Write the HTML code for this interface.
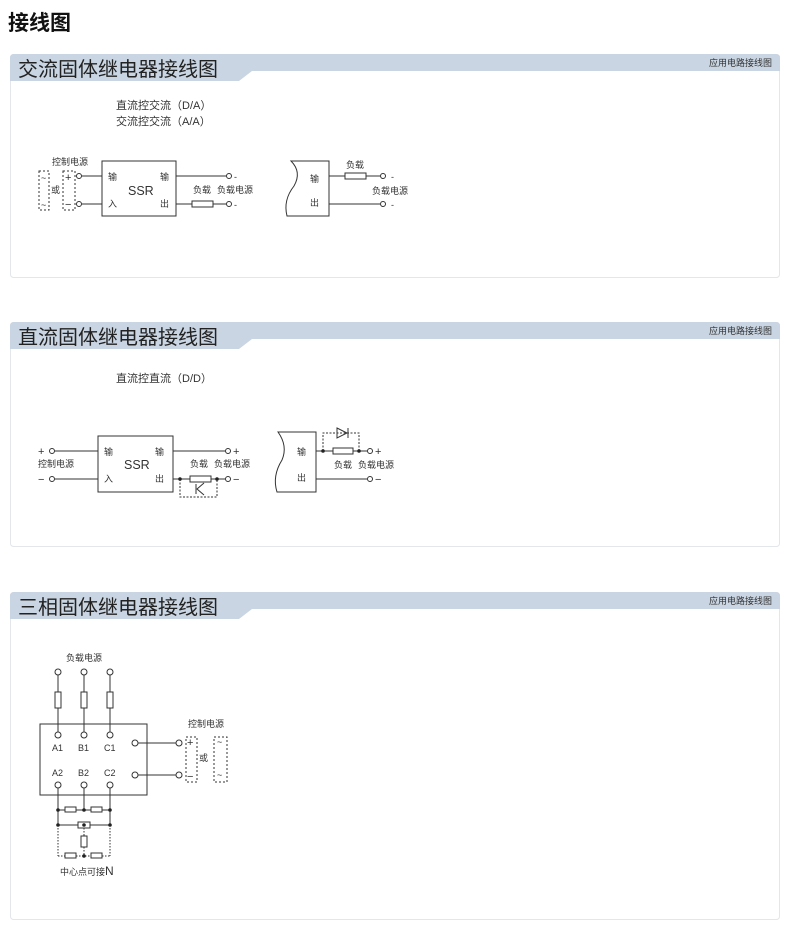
<!DOCTYPE html>
<html><head><meta charset="utf-8"><style>
html,body{margin:0;padding:0;background:#fff;}
svg{display:block;font-family:"Liberation Sans","Noto Sans CJK SC",sans-serif;}
</style></head><body>
<svg width="790" height="930" viewBox="0 0 790 930" xmlns="http://www.w3.org/2000/svg">
<text x="8" y="30" font-size="21" font-weight="bold" fill="#111">接线图</text>

<g fill="#fff" stroke="#e3e6ea" stroke-width="1">
<rect x="10.5" y="54.5" width="769" height="223" rx="3"/>
<rect x="10.5" y="322.5" width="769" height="224" rx="3"/>
<rect x="10.5" y="592.5" width="769" height="327" rx="3"/>
</g>
<g fill="#c9d5e2">
<path d="M10 58 Q10 54 14 54 L776 54 Q780 54 780 58 L780 71 L252 71 L239 81 L10 81 Z"/>
<path d="M10 326 Q10 322 14 322 L776 322 Q780 322 780 326 L780 339 L252 339 L239 349 L10 349 Z"/>
<path d="M10 596 Q10 592 14 592 L776 592 Q780 592 780 596 L780 609 L252 609 L239 619 L10 619 Z"/>
</g>
<g font-size="20" fill="#222">
<text x="18" y="76">交流固体继电器接线图</text>
<text x="18" y="344">直流固体继电器接线图</text>
<text x="18" y="614">三相固体继电器接线图</text>
</g>
<g font-size="9" fill="#333" text-anchor="end">
<text x="772" y="66">应用电路接线图</text>
<text x="772" y="334">应用电路接线图</text>
<text x="772" y="604">应用电路接线图</text>
</g>

<g stroke="#333" stroke-width="1" fill="none">
<rect x="102" y="161" width="74" height="55"/>
<line x1="82" y1="176" x2="102" y2="176"/><line x1="82" y1="204" x2="102" y2="204"/>
<circle cx="79" cy="176" r="2.5"/><circle cx="79" cy="204" r="2.5"/>
<line x1="176" y1="176" x2="226" y2="176"/><circle cx="229" cy="176" r="2.5"/>
<line x1="176" y1="204" x2="192" y2="204"/><rect x="192" y="201" width="21" height="6"/>
<line x1="213" y1="204" x2="226" y2="204"/><circle cx="229" cy="204" r="2.5"/>
<rect x="63" y="171" width="12" height="39" stroke-dasharray="2,2"/>
<rect x="39" y="171" width="10" height="39" stroke-dasharray="2,2"/>
<path d="M329 161 L291 161 Q302 172 294 186 Q283 200 287 216 L329 216 Z"/>
<line x1="329" y1="176" x2="345" y2="176"/><rect x="345" y="173" width="21" height="6"/>
<line x1="366" y1="176" x2="380" y2="176"/><circle cx="383" cy="176" r="2.5"/>
<line x1="329" y1="204" x2="380" y2="204"/><circle cx="383" cy="204" r="2.5"/>

<rect x="98" y="436" width="75" height="56"/>
<line x1="55" y1="451" x2="98" y2="451"/><line x1="55" y1="479" x2="98" y2="479"/>
<circle cx="52" cy="451" r="2.5"/><circle cx="52" cy="479" r="2.5"/>
<line x1="173" y1="451" x2="225" y2="451"/><circle cx="228" cy="451" r="2.5"/>
<line x1="173" y1="479" x2="190" y2="479"/><rect x="190" y="476" width="21" height="6"/>
<line x1="211" y1="479" x2="225" y2="479"/><circle cx="228" cy="479" r="2.5"/>
<path d="M180 479 V497 H217 V479" stroke-dasharray="2,1.5"/>
<path d="M196 484 V494 M204 483 L197 489 L204 495" />
<path d="M316 432 L278 432 Q288 446 282 460 Q272 476 277 492 L316 492 Z"/>
<line x1="316" y1="451" x2="333" y2="451"/><rect x="333" y="448" width="20" height="6"/>
<line x1="353" y1="451" x2="367" y2="451"/><circle cx="370" cy="451" r="2.5"/>
<line x1="316" y1="479" x2="367" y2="479"/><circle cx="370" cy="479" r="2.5"/>
<path d="M323 451 V433 H359 V451" stroke-dasharray="2,1.5"/>
<path d="M337 428 L347 433 L337 438 Z M348 428 V438"/>

<rect x="40" y="724" width="107" height="71"/>
<circle cx="58" cy="672" r="3"/><circle cx="84" cy="672" r="3"/><circle cx="110" cy="672" r="3"/>
<line x1="58" y1="675" x2="58" y2="732"/><line x1="84" y1="675" x2="84" y2="732"/><line x1="110" y1="675" x2="110" y2="732"/>
<rect x="55" y="692" width="6" height="16" fill="#fff"/><rect x="81" y="692" width="6" height="16" fill="#fff"/><rect x="107" y="692" width="6" height="16" fill="#fff"/>
<circle cx="58" cy="735" r="3" fill="#fff"/><circle cx="84" cy="735" r="3" fill="#fff"/><circle cx="110" cy="735" r="3" fill="#fff"/>
<circle cx="58" cy="785" r="3"/><circle cx="84" cy="785" r="3"/><circle cx="110" cy="785" r="3"/>
<line x1="58" y1="788" x2="58" y2="825"/><line x1="84" y1="788" x2="84" y2="810"/><line x1="110" y1="788" x2="110" y2="825"/>
<circle cx="135" cy="743" r="3"/><circle cx="135" cy="775" r="3"/>
<line x1="138" y1="743" x2="176" y2="743"/><line x1="138" y1="775" x2="176" y2="775"/>
<circle cx="179" cy="743" r="3"/><circle cx="179" cy="775" r="3"/>
<rect x="186" y="737" width="11" height="45" stroke-dasharray="2,2"/>
<rect x="214" y="737" width="13" height="45" stroke-dasharray="2,2"/>
<line x1="58" y1="810" x2="65" y2="810"/><rect x="65" y="807" width="11" height="5"/><line x1="76" y1="810" x2="91" y2="810"/>
<rect x="91" y="807" width="11" height="5"/><line x1="102" y1="810" x2="110" y2="810"/>
<line x1="58" y1="825" x2="78" y2="825"/><rect x="78" y="822" width="12" height="6"/><line x1="90" y1="825" x2="110" y2="825"/>
<g stroke-dasharray="1.5,1.5">
<line x1="58" y1="825" x2="58" y2="856"/><line x1="110" y1="825" x2="110" y2="856"/>
<line x1="84" y1="828" x2="84" y2="836"/><line x1="84" y1="847" x2="84" y2="856"/>
<line x1="58" y1="856" x2="65" y2="856"/><line x1="76" y1="856" x2="91" y2="856"/><line x1="102" y1="856" x2="110" y2="856"/>
</g>
<rect x="81" y="836" width="6" height="11"/>
<rect x="65" y="853" width="11" height="5"/><rect x="91" y="853" width="11" height="5"/>
</g>

<g fill="#222">
<circle cx="180" cy="479" r="1.8"/><circle cx="217" cy="479" r="1.8"/>
<circle cx="323" cy="451" r="1.8"/><circle cx="359" cy="451" r="1.8"/>
<circle cx="58" cy="810" r="1.8"/><circle cx="84" cy="810" r="1.8"/><circle cx="110" cy="810" r="1.8"/>
<circle cx="58" cy="825" r="1.8"/><circle cx="110" cy="825" r="1.8"/><circle cx="84" cy="825" r="1.8"/>
<circle cx="84" cy="856" r="1.8"/>
</g>

<g font-size="9" fill="#333">
<text x="116" y="109" font-size="11">直流控交流（D/A）</text>
<text x="116" y="125" font-size="11">交流控交流（A/A）</text>
<text x="52" y="165">控制电源</text>
<text x="65" y="181" font-size="11">+</text><text x="65" y="208" font-size="11">−</text>
<text x="41" y="181">~</text><text x="41" y="208">~</text>
<text x="51" y="193">或</text>
<text x="108" y="180">输</text><text x="108" y="207">入</text>
<text x="160" y="180">输</text><text x="160" y="207">出</text>
<text x="128" y="195" font-size="12.5">SSR</text>
<text x="234" y="180">-</text><text x="234" y="208">-</text>
<text x="193" y="193">负载</text><text x="217" y="193">负载电源</text>
<text x="310" y="182">输</text><text x="310" y="206">出</text>
<text x="346" y="168">负载</text><text x="372" y="194">负载电源</text>
<text x="391" y="180">-</text><text x="391" y="208">-</text>

<text x="116" y="382" font-size="11">直流控直流（D/D）</text>
<text x="38" y="455" font-size="11">+</text><text x="38" y="483" font-size="11">−</text>
<text x="38" y="467">控制电源</text>
<text x="104" y="455">输</text><text x="104" y="482">入</text>
<text x="155" y="455">输</text><text x="155" y="482">出</text>
<text x="124" y="469" font-size="12.5">SSR</text>
<text x="233" y="455" font-size="11">+</text><text x="233" y="483" font-size="11">−</text>
<text x="190" y="467">负载</text><text x="214" y="467">负载电源</text>
<text x="297" y="455">输</text><text x="297" y="481">出</text>
<text x="375" y="455" font-size="11">+</text><text x="375" y="483" font-size="11">−</text>
<text x="334" y="468">负载</text><text x="358" y="468">负载电源</text>

<text x="66" y="661">负载电源</text>
<text x="52" y="751">A1</text><text x="78" y="751">B1</text><text x="104" y="751">C1</text>
<text x="52" y="776">A2</text><text x="78" y="776">B2</text><text x="104" y="776">C2</text>
<text x="188" y="727">控制电源</text>
<text x="187" y="746" font-size="11">+</text><text x="187" y="780" font-size="11">−</text>
<text x="199" y="761">或</text>
<text x="217" y="745">~</text><text x="217" y="778">~</text>
<text x="60" y="875">中心点可接<tspan font-size="12">N</tspan></text>
</g>
</svg>
</body></html>
